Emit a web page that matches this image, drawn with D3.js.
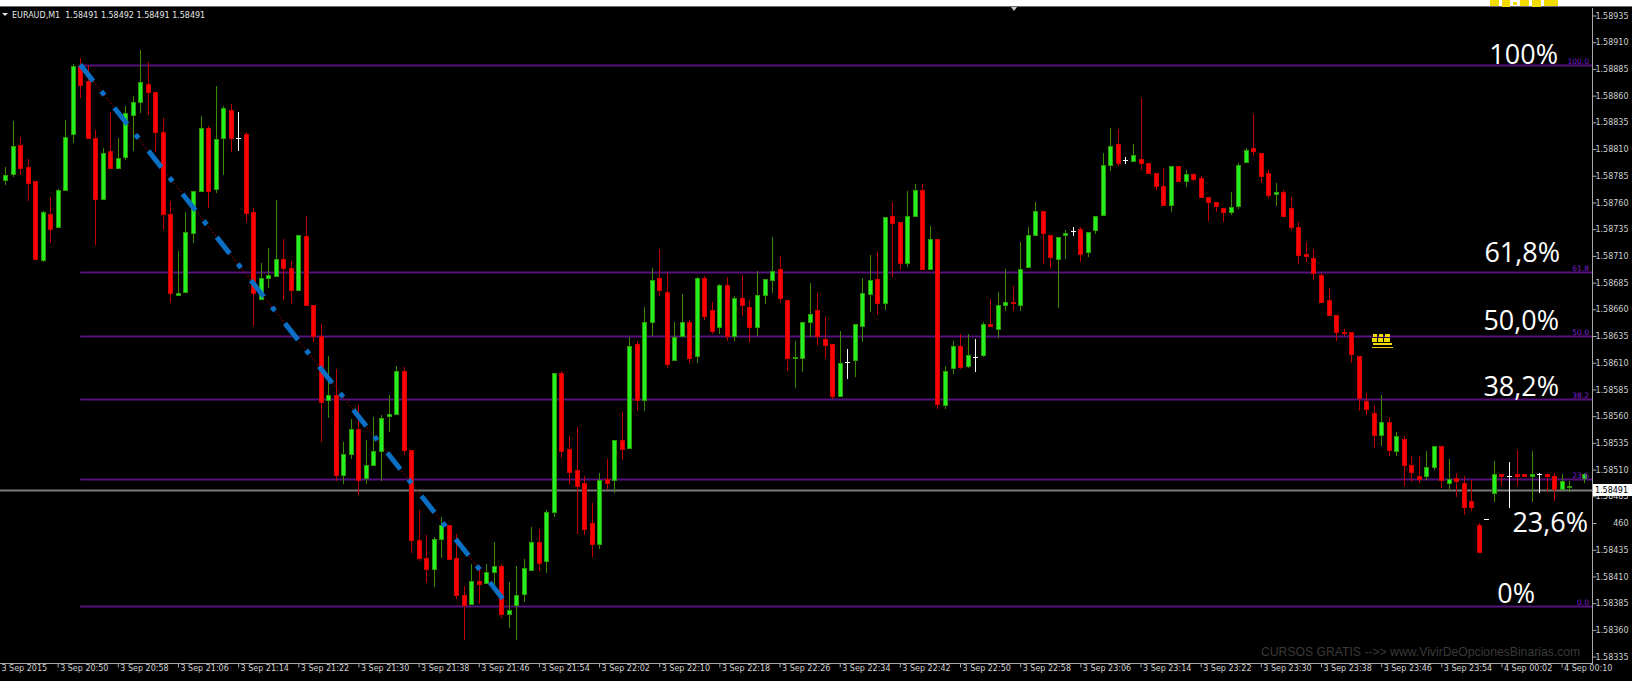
<!DOCTYPE html>
<html><head><meta charset="utf-8">
<script src="https://cdn.jsdelivr.net/npm/d3@7"></script>
<style>html,body{margin:0;padding:0;background:#000;overflow:hidden}</style>
</head><body>
<svg id="chart" width="1632" height="681"></svg>
<script>
// EURAUD M1 bars, 3 Sep 2015 20:43 onwards (one entry per bar, null = no bar drawn)
const openP = [
1.58781,1.58787,1.58814,1.58793,1.58780,1.58706,1.58749,1.58737,1.58772,1.58824,
1.58888,1.58874,1.58820,1.58763,1.58808,1.58792,1.58803,1.58842,1.58854,1.58871,
1.58863,1.58826,1.58749,1.58673,1.58676,1.58731,1.58771,1.58830,1.58773,1.58820,
1.58847,1.58820,1.58824,1.58751,1.58670,1.58689,1.58691,1.58707,1.58699,1.58678,
1.58729,1.58664,1.58635,1.58575,1.58580,1.58505,1.58525,1.58548,1.58502,1.58514,
1.58527,1.58560,1.58562,1.58602,1.58528,1.58444,1.58427,1.58417,1.58445,1.58458,
1.58427,1.58393,1.58384,1.58406,1.58404,1.58414,1.58420,1.58375,1.58383,1.58394,
1.58416,1.58442,1.58424,1.58470,1.58600,1.58529,1.58510,1.58497,1.58460,1.58440,
1.58501,1.58500,1.58538,1.58530,1.58628,1.58575,1.58648,1.58689,1.58676,1.58613,
1.58635,1.58648,1.58616,1.58689,1.58659,1.58643,1.58683,1.58635,1.58671,1.58662,
1.58643,1.58673,1.58687,1.58698,1.58669,1.58614,1.58614,1.58648,1.58659,1.58632,
1.58628,1.58579,1.58611,1.58613,1.58644,1.58674,1.58688,1.58666,1.58747,1.58742,
1.58703,1.58747,1.58772,1.58698,1.58726,1.58570,1.58605,1.58626,1.58607,1.58615,
1.58617,1.58646,1.58642,1.58664,1.58667,1.58664,1.58700,1.58730,1.58752,1.58730,
1.58707,1.58730,1.58733,1.58735,1.58714,1.58734,1.58748,1.58795,1.58815,1.58800,
1.58799,1.58801,1.58797,1.58788,1.58775,1.58758,1.58794,1.58780,1.58787,1.58783,
1.58765,1.58760,1.58755,1.58751,1.58757,1.58798,1.58811,1.58806,1.58788,1.58768,
1.58770,1.58755,1.58737,1.58712,1.58708,1.58692,1.58669,1.58655,1.58639,1.58639,
1.58616,1.58574,1.58563,1.58542,1.58555,1.58527,1.58539,1.58514,1.58504,1.58504,
1.58512,1.58532,1.58497,1.58502,1.58497,1.58481,1.58458,1.58464,1.58488,1.58506,
1.58504,1.58506,1.58506,1.58504,1.58506,1.58506,1.58504,1.58492,1.58494,null,1.58502];
const highP = [
1.58793,1.58836,1.58821,1.58801,1.58780,1.58752,1.58765,1.58773,1.58837,1.58890,
1.58895,1.58889,1.58828,1.58811,1.58845,1.58820,1.58850,1.58860,1.58903,1.58891,
1.58863,1.58839,1.58761,1.58715,1.58751,1.58771,1.58841,1.58832,1.58869,1.58850,
1.58852,1.58845,1.58826,1.58755,1.58703,1.58717,1.58762,1.58726,1.58705,1.58730,
1.58747,1.58664,1.58646,1.58616,1.58604,1.58536,1.58557,1.58570,1.58538,1.58559,
1.58561,1.58580,1.58607,1.58606,1.58528,1.58472,1.58449,1.58447,1.58466,1.58458,
1.58450,1.58401,1.58422,1.58419,1.58422,1.58442,1.58422,1.58405,1.58420,1.58426,
1.58456,1.58454,1.58472,1.58600,1.58602,1.58541,1.58550,1.58504,1.58479,1.58507,
1.58520,1.58538,1.58564,1.58634,1.58630,1.58662,1.58699,1.58716,1.58694,1.58648,
1.58674,1.58650,1.58690,1.58691,1.58667,1.58684,1.58690,1.58672,1.58692,1.58669,
1.58696,1.58688,1.58728,1.58710,1.58669,1.58630,1.58648,1.58685,1.58675,1.58653,
1.58628,1.58640,1.58623,1.58646,1.58689,1.58711,1.58714,1.58746,1.58760,1.58742,
1.58771,1.58777,1.58777,1.58738,1.58726,1.58607,1.58630,1.58637,1.58637,1.58632,
1.58648,1.58670,1.58676,1.58698,1.58682,1.58723,1.58737,1.58760,1.58752,1.58730,
1.58728,1.58734,1.58737,1.58737,1.58732,1.58747,1.58806,1.58830,1.58829,1.58803,
1.58815,1.58858,1.58797,1.58788,1.58792,1.58794,1.58794,1.58790,1.58788,1.58785,
1.58765,1.58760,1.58755,1.58770,1.58797,1.58811,1.58843,1.58806,1.58790,1.58778,
1.58772,1.58765,1.58742,1.58723,1.58716,1.58694,1.58680,1.58655,1.58642,1.58639,
1.58616,1.58582,1.58570,1.58580,1.58559,1.58545,1.58541,1.58523,1.58523,1.58527,
1.58532,1.58532,1.58520,1.58507,1.58504,1.58500,1.58460,1.58464,1.58518,1.58506,
1.58517,1.58528,1.58506,1.58527,1.58507,1.58506,1.58507,1.58506,1.58499,null,1.58507];
const lowP = [
1.58777,1.58785,1.58787,1.58762,1.58707,1.58705,1.58723,1.58737,1.58772,1.58817,
1.58859,1.58820,1.58721,1.58763,1.58792,1.58792,1.58801,1.58809,1.58845,1.58843,
1.58808,1.58735,1.58667,1.58673,1.58676,1.58723,1.58771,1.58756,1.58770,1.58787,
1.58808,1.58809,1.58743,1.58645,1.58670,1.58681,1.58691,1.58670,1.58666,1.58678,
1.58664,1.58630,1.58537,1.58559,1.58500,1.58497,1.58521,1.58487,1.58497,1.58514,
1.58500,1.58546,1.58562,1.58525,1.58433,1.58425,1.58405,1.58401,1.58428,1.58426,
1.58390,1.58351,1.58384,1.58385,1.58404,1.58401,1.58372,1.58363,1.58351,1.58387,
1.58416,1.58416,1.58414,1.58467,1.58522,1.58497,1.58451,1.58450,1.58429,1.58437,
1.58493,1.58489,1.58520,1.58530,1.58566,1.58566,1.58636,1.58673,1.58606,1.58613,
1.58635,1.58611,1.58611,1.58651,1.58638,1.58638,1.58631,1.58631,1.58655,1.58630,
1.58636,1.58666,1.58676,1.58667,1.58603,1.58587,1.58602,1.58635,1.58628,1.58615,
1.58577,1.58579,1.58596,1.58598,1.58630,1.58658,1.58656,1.58660,1.58691,1.58698,
1.58701,1.58747,1.58698,1.58698,1.58568,1.58568,1.58600,1.58605,1.58606,1.58602,
1.58616,1.58644,1.58634,1.58659,1.58659,1.58659,1.58700,1.58730,1.58703,1.58700,
1.58662,1.58708,1.58730,1.58705,1.58710,1.58731,1.58748,1.58790,1.58795,1.58797,
1.58799,1.58791,1.58788,1.58773,1.58758,1.58752,1.58780,1.58775,1.58781,1.58765,
1.58744,1.58752,1.58743,1.58749,1.58755,1.58798,1.58804,1.58779,1.58765,1.58758,
1.58747,1.58735,1.58703,1.58705,1.58688,1.58667,1.58655,1.58631,1.58636,1.58611,
1.58566,1.58562,1.58531,1.58533,1.58524,1.58524,1.58496,1.58499,1.58498,1.58501,
1.58511,1.58494,1.58493,1.58485,1.58468,1.58472,1.58433,1.58464,1.58481,1.58496,
1.58475,1.58496,1.58504,1.58481,1.58489,1.58490,1.58482,1.58492,1.58490,null,1.58498];
const closeP = [
1.58786,1.58813,1.58792,1.58778,1.58707,1.58751,1.58735,1.58772,1.58821,1.58888,
1.58870,1.58820,1.58763,1.58806,1.58792,1.58802,1.58844,1.58854,1.58873,1.58863,
1.58826,1.58749,1.58675,1.58675,1.58732,1.58771,1.58830,1.58771,1.58819,1.58848,
1.58820,1.58820,1.58750,1.58675,1.58689,1.58692,1.58707,1.58699,1.58678,1.58730,
1.58664,1.58635,1.58573,1.58580,1.58505,1.58525,1.58548,1.58500,1.58514,1.58527,
1.58558,1.58562,1.58602,1.58528,1.58444,1.58427,1.58417,1.58445,1.58458,1.58426,
1.58393,1.58383,1.58406,1.58403,1.58414,1.58420,1.58375,1.58379,1.58393,1.58418,
1.58442,1.58423,1.58470,1.58600,1.58527,1.58508,1.58495,1.58454,1.58440,1.58500,
1.58497,1.58538,1.58529,1.58626,1.58575,1.58648,1.58687,1.58678,1.58609,1.58634,
1.58648,1.58614,1.58689,1.58654,1.58640,1.58683,1.58635,1.58671,1.58664,1.58643,
1.58673,1.58688,1.58696,1.58671,1.58614,1.58615,1.58648,1.58656,1.58635,1.58627,
1.58579,1.58610,1.58611,1.58646,1.58675,1.58687,1.58666,1.58746,1.58741,1.58703,
1.58747,1.58772,1.58698,1.58726,1.58571,1.58602,1.58626,1.58606,1.58617,1.58615,
1.58646,1.58644,1.58664,1.58667,1.58666,1.58698,1.58730,1.58752,1.58731,1.58709,
1.58728,1.58731,1.58733,1.58712,1.58732,1.58747,1.58795,1.58813,1.58797,1.58800,
1.58804,1.58797,1.58788,1.58775,1.58758,1.58794,1.58780,1.58787,1.58782,1.58765,
1.58760,1.58757,1.58751,1.58756,1.58795,1.58809,1.58808,1.58785,1.58767,1.58770,
1.58747,1.58737,1.58711,1.58710,1.58694,1.58667,1.58655,1.58639,1.58638,1.58618,
1.58577,1.58567,1.58542,1.58555,1.58528,1.58541,1.58514,1.58508,1.58501,1.58512,
1.58532,1.58500,1.58501,1.58499,1.58475,1.58475,1.58433,1.58464,1.58506,1.58504,
1.58504,1.58504,1.58504,1.58506,1.58506,1.58504,1.58492,1.58499,1.58495,null,1.58506];

// Time axis labels (first one is the date of the left edge, then every 8 bars)
const timeLabels = ["3 Sep 2015","3 Sep 20:50","3 Sep 20:58","3 Sep 21:06","3 Sep 21:14","3 Sep 21:22",
  "3 Sep 21:30","3 Sep 21:38","3 Sep 21:46","3 Sep 21:54","3 Sep 22:02","3 Sep 22:10","3 Sep 22:18",
  "3 Sep 22:26","3 Sep 22:34","3 Sep 22:42","3 Sep 22:50","3 Sep 22:58","3 Sep 23:06","3 Sep 23:14",
  "3 Sep 23:22","3 Sep 23:30","3 Sep 23:38","3 Sep 23:46","3 Sep 23:54","4 Sep 00:02","4 Sep 00:10"];
// Price axis ticks and their printed labels
const priceTicks = [1.58335,1.58360,1.58385,1.58410,1.58435,1.58460,1.58485,1.58510,1.58535,1.58560,
  1.58585,1.58610,1.58635,1.58660,1.58685,1.58710,1.58735,1.58760,1.58785,1.58810,1.58835,1.58860,
  1.58885,1.58910,1.58935];
const priceTickLabels = ["1.58335","1.58360","1.58385","1.58410","1.58435","460","1.58485","1.58510",
  "1.58535","1.58560","1.58585","1.58610","1.58635","1.58660","1.58685","1.58710","1.58735","1.58760",
  "1.58785","1.58810","1.58835","1.58860","1.58885","1.58910","1.58935"];

// Fibonacci retracement: anchors (bar index, price) and levels
const fibBars = [10, 67];
const fibPrices = [1.58889, 1.58382];
const fibLevels = [0, 23.6, 38.2, 50, 61.8, 100];
const fibLevelTags = ["0.0", "23.6", "38.2", "50.0", "61.8", "100.0"];
const fibCaptions = ["0%", "23,6%", "38,2%", "50,0%", "61,8%", "100%"];

const symbolHeader = "EURAUD,M1  1.58491 1.58492 1.58491 1.58491";
const bidPrice = 1.58491;
const watermark = "CURSOS GRATIS -->> www.VivirDeOpcionesBinarias.com";

// ---- layout ----
const W = 1632, H = 681;
const plotRight = 1592, plotTop = 8, plotBottom = 663;

const x = d3.scaleLinear().domain([-0.665, 211.04]).range([0, plotRight]);
const y = d3.scaleLinear().domain([1.58329, 1.58942]).range([plotBottom, plotTop]);

const svg = d3.select("#chart");
svg.append("rect").attr("width", W).attr("height", H).attr("fill", "#000");

// window frame strip on top
svg.append("rect").attr("x", 0).attr("y", 0).attr("width", W).attr("height", 6).attr("fill", "#fff");
svg.append("line").attr("x1", 0).attr("x2", W).attr("y1", 6.5).attr("y2", 6.5)
  .attr("stroke", "#6a6a6a").attr("stroke-width", 1);

svg.append("clipPath").attr("id", "plotClip").append("rect")
  .attr("x", 0).attr("y", plotTop).attr("width", plotRight).attr("height", plotBottom - plotTop);
const plot = svg.append("g").attr("clip-path", "url(#plotClip)");

// Fibonacci level lines
const fibRange = fibPrices[0] - fibPrices[1];
const fibPrice = lv => fibPrices[1] + fibRange * lv / 100;
plot.append("g").selectAll("line").data(fibLevels).join("line")
  .attr("x1", x(fibBars[0])).attr("x2", plotRight)
  .attr("y1", d => Math.round(y(fibPrice(d))) + 0.5).attr("y2", d => Math.round(y(fibPrice(d))) + 0.5)
  .attr("stroke", "#56137c").attr("stroke-width", 2);

// bid line
plot.append("line").attr("x1", 0).attr("x2", plotRight)
  .attr("y1", Math.round(y(bidPrice)) + 0.5).attr("y2", Math.round(y(bidPrice)) + 0.5)
  .attr("stroke", "#7a7a7a").attr("stroke-width", 2);

// Fibonacci base line (dotted)
plot.append("line")
  .attr("x1", x(fibBars[0])).attr("y1", y(fibPrices[0]))
  .attr("x2", x(fibBars[1])).attr("y2", y(fibPrices[1]))
  .attr("stroke", "#b00000").attr("stroke-width", 1).attr("stroke-dasharray", "1.5 2");

// candles
const bars = d3.range(openP.length).filter(i => openP[i] !== null).map(i => ({
  i, o: openP[i], h: highP[i], l: lowP[i], c: closeP[i]
}));
const kind = d => d.c > d.o ? "up" : (d.c < d.o ? "down" : "flat");
const wickColor = {up: "#3a8a00", down: "#c00000", flat: "#ffffff"};
const bodyFill = {up: "#22f022", down: "#ff0000", flat: "#ffffff"};
const bodyEdge = {up: "#2c9a00", down: "#d00000", flat: "#ffffff"};

const cg = plot.append("g").attr("shape-rendering", "crispEdges");
const cx = d => Math.round(x(d.i));
cg.selectAll("line.wick").data(bars).join("line").attr("class", "wick")
  .attr("x1", d => cx(d) + 0.5).attr("x2", d => cx(d) + 0.5)
  .attr("y1", d => Math.round(y(d.h))).attr("y2", d => Math.round(y(d.l)) + 1)
  .attr("stroke", d => wickColor[kind(d)]).attr("stroke-width", 1);
cg.selectAll("rect.body").data(bars.filter(d => kind(d) !== "flat")).join("rect").attr("class", "body")
  .attr("x", d => cx(d) - 2 + 0.5)
  .attr("y", d => Math.round(y(Math.max(d.o, d.c))) + 0.5)
  .attr("width", 4)
  .attr("height", d => Math.max(1, Math.round(y(Math.min(d.o, d.c))) - Math.round(y(Math.max(d.o, d.c)))))
  .attr("fill", d => bodyFill[kind(d)]).attr("stroke", d => bodyEdge[kind(d)]).attr("stroke-width", 1);
cg.selectAll("line.flat").data(bars.filter(d => kind(d) === "flat")).join("line").attr("class", "flat")
  .attr("x1", d => cx(d) - 2).attr("x2", d => cx(d) + 3)
  .attr("y1", d => Math.round(y(d.o)) + 0.5).attr("y2", d => Math.round(y(d.o)) + 0.5)
  .attr("stroke", "#ffffff").attr("stroke-width", 1);

// blue dash-dot trend line over the fall
plot.append("line")
  .attr("x1", x(fibBars[0])).attr("y1", y(fibPrices[0]))
  .attr("x2", x(fibBars[1])).attr("y2", y(fibPrices[1]))
  .attr("stroke", "#0b6fc4").attr("stroke-width", 5).attr("stroke-linecap", "butt")
  .attr("stroke-dasharray", "21 13 5 16");

// small level tags at the right end of each fib line
svg.append("g").selectAll("text").data(fibLevels).join("text")
  .attr("x", plotRight - 3).attr("y", d => Math.round(y(fibPrice(d))) - 1)
  .attr("text-anchor", "end").attr("font-family", "DejaVu Sans").attr("font-size", 7.5)
  .attr("fill", "#7d1fd0").text((d, k) => fibLevelTags[k]);

// big captions
const captionDx = [-57, -4, -33, -33, -32, -34];
const captionDy = [-3.5, 53, -3, -6, -10, -1];
svg.append("g").selectAll("text").data(fibLevels).join("text")
  .attr("x", (d, k) => plotRight + captionDx[k])
  .attr("y", (d, k) => y(fibPrice(d)) + captionDy[k])
  .attr("text-anchor", "end").attr("font-family", "Open Sans").attr("font-size", 27)
  .attr("fill", "#ffffff").text((d, k) => fibCaptions[k]);

// watermark
svg.append("text").attr("x", 1261).attr("y", 656).attr("font-family", "Liberation Sans")
  .attr("font-size", 12.2).attr("fill", "#3a3a3a").text(watermark);

// small yellow price-label glyph blocks
const yellowMark = svg.append("g").attr("fill", "#f2dc00").attr("shape-rendering", "crispEdges");
[[1373, 334, 4, 3], [1379, 334, 4, 3], [1385, 334, 5, 3],
 [1372, 338, 5, 4], [1378, 338, 5, 4], [1384, 338, 6, 4],
 [1373, 343, 19, 2]].forEach(r => yellowMark.append("rect")
  .attr("x", r[0]).attr("y", r[1]).attr("width", r[2]).attr("height", r[3]));
svg.append("line").attr("x1", 1372).attr("x2", 1393).attr("y1", 347.5).attr("y2", 347.5)
  .attr("stroke", "#e8d000").attr("stroke-width", 1);
const topMark = svg.append("g").attr("fill", "#f2dc00").attr("shape-rendering", "crispEdges");
[[1490, 0, 9, 6], [1502, 0, 8, 7], [1513, 2, 4, 3], [1520, 0, 9, 6], [1532, 0, 9, 7], [1544, 0, 14, 6]]
  .forEach(r => topMark.append("rect").attr("x", r[0]).attr("y", r[1]).attr("width", r[2]).attr("height", r[3]));

// ---- price axis ----
svg.append("rect").attr("x", plotRight + 1).attr("y", plotTop).attr("width", W - plotRight).attr("height", H - plotTop).attr("fill", "#000");
svg.append("line").attr("x1", plotRight + 0.5).attr("x2", plotRight + 0.5)
  .attr("y1", plotTop).attr("y2", plotBottom + 1).attr("stroke", "#a8a8a8");
const yAxis = d3.axisRight(y).tickValues(priceTicks).tickSize(4).tickPadding(2)
  .tickFormat((d, k) => priceTickLabels[k]);
const ya = svg.append("g").attr("transform", `translate(${plotRight + 0.5},0)`).call(yAxis);
ya.select(".domain").remove();
ya.selectAll(".tick line").attr("stroke", "#a8a8a8");
ya.selectAll(".tick text").attr("fill", "#cfcfcf").attr("font-family", "DejaVu Sans").attr("font-size", 8)
  .attr("text-anchor", "end").attr("x", W - plotRight - 4);

// bid price box
const by = Math.round(y(bidPrice));
svg.append("rect").attr("x", plotRight + 1).attr("y", by - 6).attr("width", W - plotRight - 1).attr("height", 12).attr("fill", "#fff");
svg.append("text").attr("x", W - 4).attr("y", by + 3).attr("text-anchor", "end")
  .attr("font-family", "DejaVu Sans").attr("font-size", 8).attr("fill", "#000").text(bidPrice.toFixed(5));

// ---- time axis ----
const tickBars = timeLabels.map((t, k) => k === 0 ? -0.8 : 7 + 8 * (k - 1));
svg.append("line").attr("x1", 0).attr("x2", plotRight + 1).attr("y1", plotBottom + 0.5).attr("y2", plotBottom + 0.5)
  .attr("stroke", "#a8a8a8");
const xAxis = d3.axisBottom(x).tickValues(tickBars).tickSize(4).tickPadding(2)
  .tickFormat((d, k) => timeLabels[k]);
const xa = svg.append("g").attr("transform", `translate(0,${plotBottom + 0.5})`).call(xAxis);
xa.select(".domain").remove();
xa.selectAll(".tick line").attr("stroke", "#a8a8a8");
xa.selectAll(".tick text").attr("fill", "#cfcfcf").attr("font-family", "DejaVu Sans").attr("font-size", 8)
  .attr("text-anchor", "start").attr("dx", 2).attr("dy", "0.2em");

// ---- header ----
svg.append("path").attr("d", "M2,13 L8,13 L5,16 Z").attr("fill", "#e0e0e0");
svg.append("text").attr("x", 12).attr("y", 18).attr("font-family", "DejaVu Sans").attr("font-size", 8)
  .attr("fill", "#e6e6e6").style("white-space", "pre").text(symbolHeader);
// chart shift marker
svg.append("path").attr("d", "M1011,7 L1017,7 L1014,11 Z").attr("fill", "#c8c8c8");
</script>
</body></html>
